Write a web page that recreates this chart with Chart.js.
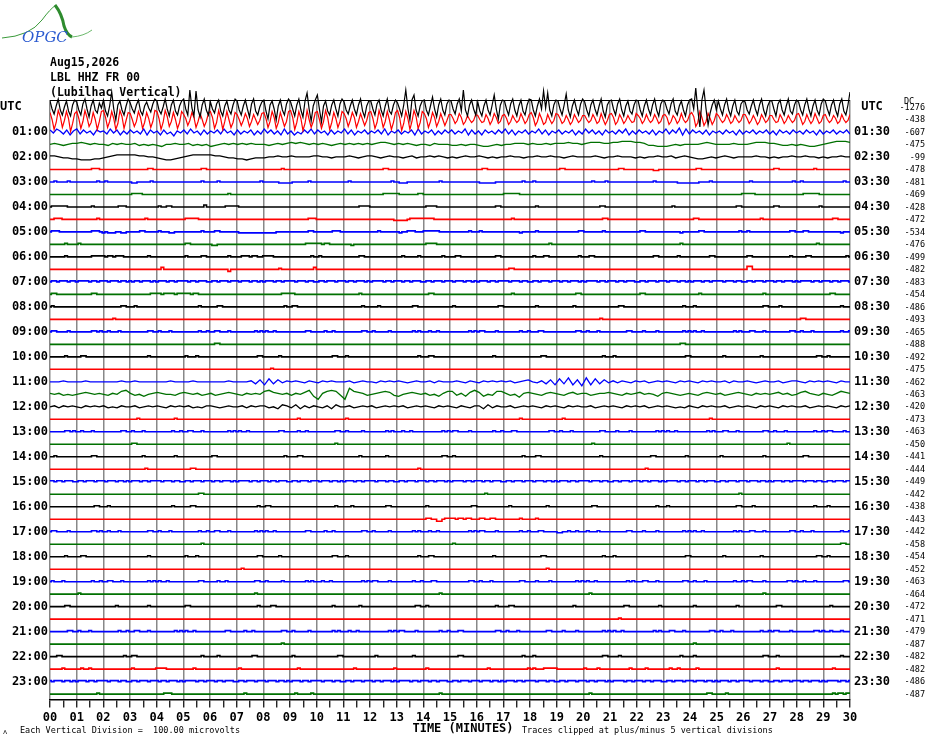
<!DOCTYPE html>
<html>
<head>
<meta charset="utf-8">
<script src="https://cdn.jsdelivr.net/npm/chart.js@4.4.1/dist/chart.umd.min.js"></script>
<style>
  html, body { margin: 0; padding: 0; background: #fff; }
  #wrap { width: 930px; height: 744px; position: relative; }
</style>
</head>
<body>
<div id="wrap"><canvas id="heli"></canvas></div>
<script>
// Header lines
const headerLines = ['Aug15,2026', 'LBL HHZ FR 00', '(Lubilhac Vertical)'];

// Minute ticks on the time axis (labels every minute, marks every half minute)
const minuteLabels = ['00','01','02','03','04','05','06','07','08','09','10','11','12','13','14','15',
                      '16','17','18','19','20','21','22','23','24','25','26','27','28','29','30'];

// Row labels (one trace per half hour, 48 rows); label every second row
const leftLabels = ['UTC','01:00','02:00','03:00','04:00','05:00','06:00','07:00','08:00','09:00','10:00','11:00',
                    '12:00','13:00','14:00','15:00','16:00','17:00','18:00','19:00','20:00','21:00','22:00','23:00'];
const rightLabels = ['UTC','01:30','02:30','03:30','04:30','05:30','06:30','07:30','08:30','09:30','10:30','11:30',
                     '12:30','13:30','14:30','15:30','16:30','17:30','18:30','19:30','20:30','21:30','22:30','23:30'];

// DC offset of every row
const dcOffsets = [-1276, -438, -607, -475, -99, -478, -481, -469, -428, -472, -534, -476,
                   -499, -482, -483, -454, -486, -493, -465, -488, -492, -475, -462, -463,
                   -420, -473, -463, -450, -441, -444, -449, -442, -438, -443, -442, -458,
                   -454, -452, -463, -464, -472, -471, -479, -487, -482, -482, -486, -487];

// Rows with real signal (drawn as plain lines); the others are quiet rows
const activeRows = [0, 1, 2, 3, 4, 22, 23, 24];

// Samples per row, evenly spread over the 30 minutes.
// 0-9 = +0..+9, A-Z = +10..+35, a-z = -1..-26 (units of SAMPLE_UV microvolts)
// '.' stands for five zero samples (quiet rows: 10 samples per minute)
const SAMPLE_UV = 8;
const DIV_UV = 100;
const traceRows = [
  // 00:00
  '6bg18ch06di27 5ch38bj17cf4a 7di1Fbm26ch18 4bf27dh15ae38 6cg08bi27dh16 8bhHaiGcj28ch 5bf37di16cg28 6ch17bj38dh05 7dl26bm17ch38 5bi28cj6Ebn17 Cbo16dh27bi38 5cg17bh28dj16 6bh37ci18dg27 4bi2Ham7Cci16 7ch1Abj28ch37 6bg38dHci27bh 5di17ch2Cbl27 6bh38ci17dh28 7ci18bGaEci27 6bh2Dcj17bh38 5ci27bh18dj26 7bh38ci16dg27 6ci17bh28ci37 5bg38dh16ci27 8bJct7Hbrf27c 6bh28ci17dh36 5cg17bh28ci16 6bi37ch18dg27 5ch28bi17ch38 6bh27ci38dh2F',
  // 00:30
  '70jc93ha81ld6 81ib92gc70jb8 92hb81jd93ia7 60gb82ic71hb9 81jc93gb70ic8 51fa72hb60gb6 82ic91jb80hc7 50fa61gb50ea6 71hb82ic70gb8 92jc81kd90hb7 80ib92jc71hb8 61ga72hb60fa7 81ic92hb80jc7 92kd81jb93ic8 61hb72gb60fa5 51da62eb40ca5 40cb51ea62db4 51eb40ca61da5 72fb61ec50da6 51db40eb51ca4 40ca51db60ea5 62eb51da40cb6 41da50ca51db4 52eb41da60ca5 73gc82fb61ea6 40ca51db40ca5 51da40eb51ca4 40cb51da40ca5 61eb50da61db4 50ca41db50ca5',
  // 01:00
  '2a31b2c1 3b2a1c20 1b3a2c1b 2a1b3c2a 1c2b0d1a 2b3a1c2b 1a2b3a1c 2b1a2c1b 3a2b1c3b 1c0b2a3b 2a1c2b1a 3b2c1a2b 1a2b3c1a 2b1a2c3b 1a2c1b2a 2b1a3c2b 1c2a1b2a 3b2c1a2b 1a3b2c1a 2b1a2c1b 3a2b1c2a 1b2a3c1b 2a1b2c1a 3b2a4c3b 2a1b2c1a 1b2a1c2b 1a2b1a2b 1c2a1b2a 1b2a1c2b 1a2b1a2b',
  // 01:30
  '010a01 121010 0a1010 01a0a0 ab0010 01a0a0 ba0101 010100 0a0101 212101 010a01 010101 012210 1010a0 0a1000 aa0a00 abba0a 001110 100101 112110 122211 223332 21aabb ba0a00 001210 000100 012221 10aa0a 0abba0 123332',
  // 02:00
  '110aab bcccbb a01222 221100 abccba 012222 2110aa bbcbaa a00100 100001 100a00 010a01 10a010 0a01a0 01010a 0a0100 10a0a0 0100a0 010010 0a0100 0010a0 01000a 0a0010 01a010 abba0a 010a00 00100a 0a0010 0100a0 a00100',
  // 02:30
  '.. .01110 .. .00110 .. 0000000110 .. .. .00100 .. .. .. 0000011000 .. .. .. 0011000000 .. .. 0110000000 .. 0001100000 .0aa00 .. 0011000000 .. .. 0110000000 .01000 ..',
  // 03:00
  '0010000100 .00010 0100000000 0aa0000010 .. .00100 0001000000 .00001 .0aaaa a000000100 .. 0010000000 .00010 0aaa000000 .01000 .. 0aaaaaa000 .00100 0100000000 .. 0001000010 .. .01000 .aaaaa aaa0000100 .. 0010000000 .00010 0100000000 .00100',
  // 03:30
  '.. .. .. 0111100000 .. .. .00100 .. .. .. .. .. .11111 1000000011 .. .. .. 1111110000 .. .. .. .. .. .. .. .00001 1111000000 .. 0011111100 ..',
  // 04:00
  '0111111000 .01000 .01110 .. 0100110000 .00020 .01111 1000000000 .. .. .. .01111 .. .. 0111100000 .. .00110 .. 0010000000 .. .01100 .. .. 0001000000 .. .00110 .. 0110000000 .00010 ..',
  // 04:30
  '0011100000 .00010 .. .01000 .. 0111110000 .. .. .. .00111 .. .. .0000a aaaa011111 1111000000 .. .. 0001000000 .. .. .00110 .. .. .. 0110000000 .. .01000 .. .. 0001100000',
  // 05:00
  '0111000000 .01110 a0aaa00aa0 0000110000 01000aa000 .00100 0011000000 0aaaaaaaaa aaaaa00000 .00110 0000001110 .. 0001000000 0a00111000 1111110000 .00100 0100000000 .0a000 0010000000 .00011 0000000100 .. 0110000000 .0a000 0001100000 .00010 0100000000 .00110 0011000000 .0a000',
  // 05:30
  '.01000 0100000000 .. .. .. 0110000000 0aa0000000 .. .. .01111 1101100000 000a000000 .. .. 0111100000 .. .. .. .00100 .. .. .. .. .01000 .. .. .. .. .00100 ..',
  // 06:00
  '.01000 .01111 1011011100 .00100 .. 0100000110 .00100 0011101100 1111000000 .00010 0100000000 .01100 .. 0010000010 .00100 0011000000 .00110 .. 0100011000 .00010 0011000000 .. .01100 0000010000 .00110 .. 0110000000 .00100 0001100000 .00010',
  // 06:30
  '.. .. .. .. 0020000000 .. .00b00 .. .01000 .00002 .. .. .. .. .. .. .. 0011000000 .. .. .. .. .. .. .. .. 0330000000 .. .. ..',
  // 07:00
  '0110111011 0111101101 1101110110 1011011101 0111011011 1101101110 0110111011 1011101101 0111011011 1101110110 0110111011 1011011101 0111101101 1101101110 0110111011 1011101101 0111011011 1101110110 0110111011 1011011101 0111101101 1101101110 0110111011 1011101101 0111011011 1101110110 0110111011 1011011101 0111101101 1101101110',
  // 07:30
  '0110000000 .01100 .. .00011 1101111011 1110110000 .. .. .00111 1100000000 .. .01000 .. .. 0011000000 .. .. 0001000000 .. .00110 .. .. 0110000000 .. 0001000000 .. .00100 .. .. 0011000000',
  // 08:00
  '0100000000 .. .00110 0010000000 .. .01000 0001100000 .. .00010 0110000000 .. .00100 0001000000 .01100 .. 0100000000 .00011 .. 0010000000 .01000 .. 0001100000 .. .00100 0100000000 .. .00110 0001000000 .. .01000',
  // 08:30
  '.. .. 0000100000 .. .. .. .. .. .. .. .. .. .. .. .. .. .. .. .. .. .01000 .. .. .. .. .. .. .. 0110000000 ..',
  // 09:00
  '0110000100 .01101 0010001000 .00110 0100010000 .01001 0011000100 .00101 0100100000 .01100 0001001000 .00110 0100000100 .01010 0010010000 .00101 0110000100 .01001 0001100000 .00110 0100010000 .01100 0010000100 .00101 0100100000 .01010 0011000100 .00110 0100010000 .01001',
  // 09:30
  '.. .. .. .. .. .. 0011000000 .. .. .. .. .. .. .. .. .. .. .. .. .. .. .. .. .01100 .. .. .. .. .. ..',
  // 10:00
  '.01000 0011000000 .. .00100 .. 0100010000 .. .00011 0000001000 .. .01100 0100000000 .. .00010 0011000000 .. .01000 .. 0000110000 .. .00100 0100000000 .. .00011 .. 0010000000 .01000 .. .00110 0100000000',
  // 10:30
  '.. .. .. .. .. .. .. .. 0001000000 .. .. .. .. .. .. .. .. .. .. .. .. .. .. .. .. .. .. .. .. ..',
  // 11:00
  '000100 001000 000010 010000 000100 001000 000010 0001b2 c3b2a1 010a10 a10100 01a010 0a1010 10a010 01a100 010a10 a10101 01a012 0a1b2c 3b4c2d 4c3b2a 1a10a1 01a010 10a101 0a1010 01a100 10a010 01a011 0a1010 10a100',
  // 11:30
  '101a0a 012101 0a1034 1a0b01 2100a1 2101a0 1a0121 0a1010 342101 a1024b e1343a e6321a 01232a b01210 1a0b13 3a1b24 2b0a33 1a0c12 10a121 0a1201 1a0112 10a101 2010b1 210a01 0a1210 1a0121 0a1010 1201a0 2310a1 0a1321',
  // 12:00
  '01a101 0a1010 1a0a10 01a010 10a101 01a0a1 10a010 01a101 1a0b21 a2b1a1 0a1b20 01a010 1a0101 01a010 10a101 0a10a1 1b2a10 01a010 10a101 0a1010 01a010 10a101 01a010 10a0a1 0a1010 01a010 10a101 0a1010 01a010 10a101',
  // 12:30
  '.. .. .. 0001000000 0000000100 .. .. .. .. 0001000000 .. 0100000000 .. .. .. .. .. .01000 .. 0010000000 .. .. .. .. .00100 .. .. .. .. ..',
  // 13:00
  '.01101 0010001000 .00110 0100010000 .01001 0011000100 .00101 0100100000 .01100 0001001000 .00110 0100000100 .01010 0010010000 .00101 0110000100 .01001 0001100000 .00110 0100010000 .01100 0010000100 .00101 0100100000 .01010 0011000100 .00110 0100010000 .01001 0110000100',
  // 13:30
  '.. .. .. 0110000000 .. .. .. .. .. .. .00100 .. .. .. .. .. .. .. .. .. 0001000000 .. .. .. .. .. .. .01000 .. ..',
  // 14:00
  '0010000000 .01100 .. 0000010000 .00100 .. 0110000000 .. .00010 0001100000 .. .01000 0000001000 .. .00110 0100000000 .. .00100 0011000000 .. .01000 .. 0000011000 .00010 .. 0100000000 .00100 .. 0011000000 ..',
  // 14:30
  '.. .. .. .01000 .. 0001100000 .. .. .. .. .. .. .. .00010 .. .. .. .. .. .. .. .. 0001000000 .. .. .. .. .. .. ..',
  // 15:00
  '1101101110 0110111011 1011101101 0111011011 1101110110 0110111011 1011011101 0111101101 1101101110 0110111011 1011101101 0111011011 1101110110 0110111011 1011011101 0111101101 1101101110 0110111011 1011101101 0111011011 1101110110 0110111011 1011011101 0111101101 1101101110 0110111011 1011101101 0111011011 1101110110 0110111011',
  // 15:30
  '.. .. .. .. .. .01100 .. .. .. .. .. .. .. .. .. .. 0001000000 .. .. .. .. .. .. .. .. .00010 .. .. .. ..',
  // 16:00
  '.. .00110 0010000000 .. .01000 0001100000 .. .00010 0110000000 .. .00100 0001000000 .01100 .. 0100000000 .00011 .. 0010000000 .01000 .. 0001100000 .. .00100 0100000000 .. .00110 0001000000 .. .01000 0100000000',
  // 16:30
  '.. .. .. .. .. .. .. .. .. .. .. .. .. .. 01100bb011 1101101100 0110011000 .01000 0010000000 .. .. .. .. .. .. .. .. .. .. ..',
  // 17:00
  '0110000100 .01101 0010001000 .00110 0100010000 .01001 0011000100 .00101 0100100000 .01100 0001001000 .00110 0100000100 .01010 0010010000 .00101 0110000100 .01001 0001100000 aa00100100 0100010000 .01100 0010000100 .00101 0100100000 .01010 0011000100 .00110 0100010000 .01001',
  // 17:30
  '.. .. .. .. .. .00100 .. .. .. .. .. .. .. .. .. 0100000000 .. .. .. .. .. .. .. .. .. .. .. .. .. 0000001100',
  // 18:00
  '.01000 0011000000 .. .00100 .. 0100010000 .. .00011 0000001000 .. .01100 0100000000 .. .00010 0011000000 .. .01000 .. 0000110000 .. .00100 0100000000 .. .00011 .. 0010000000 .01000 .. .00110 0100000000',
  // 18:30
  '.. .. .. .. .. .. .. 0010000000 .. .. .. .. .. .. .. .. .. .. .01000 .. .. .. .. .. .. .. .. .. .. ..',
  // 19:00
  '0100010000 .01001 0011000100 .00101 0100100000 .01100 0001001000 .00110 0100000100 .01010 0010010000 .00101 0110000100 .01001 0001100000 .00110 0100010000 .01100 0010000100 .00101 0100100000 .01010 0011000100 .00110 0100010000 .01001 0110000100 .01101 0010001000 .00110',
  // 19:30
  '.. 0100000000 .. .. .. .. .. .00100 .. .. .. .. .. .. .01000 .. .. .. .. .. 0010000000 .. .. .. .. .. .00100 .. .. ..',
  // 20:00
  '.01100 .. 0000010000 .00100 .. 0110000000 .. .00010 0001100000 .. .01000 0000001000 .. .00110 0100000000 .. .00100 0011000000 .. .01000 .. 0000011000 .00010 .. 0100000000 .00100 .. 0011000000 .. 0010000000',
  // 20:30
  '.. .. .. .. .. .. .. .. .. .. .. .. .. .. .. .. .. .. .. .. .. 0001000000 .. .. .. .. .. .. .. ..',
  // 21:00
  '.00110 0100010000 .01001 0011000100 .00101 0100100000 .01100 0001001000 .00110 0100000100 .01010 0010010000 .00101 0110000100 .01001 0001100000 .00110 0100010000 .01100 0010000100 .00101 0100100000 .01010 0011000100 .00110 0100010000 .01001 0110000100 .01101 0010001000',
  // 21:30
  '.. .. .. .. .. .. .. .. .00100 .. .. .. .. .. .. .. .. .. .. .. .. .. .. .. 0100000000 .. .. .. .. ..',
  // 22:00
  '0001100000 .. .00010 0110000000 .. .00100 0001000000 .01100 .. 0100000000 .00011 .. 0010000000 .01000 .. 0001100000 .. .00100 0100000000 .. .00110 0001000000 .. .01000 0100000000 .. .00110 0010000000 .. .01000',
  // 22:30
  '.10000 0010010000 .. 0100000000 1111000000 0000100000 .. 0100000000 .. 0001000000 .. 0000100000 0000000001 .. 0100000000 .. 0000100000 0000000001 0100011111 .. 1000010000 0000000100 0001000000 0010010000 0010000000 .. .. 0010000000 .. 0001000000',
  // 23:00
  '1011101101 0111011011 1101110110 0110111011 1011011101 0111101101 1101101110 0110111011 1011101101 0111011011 1101110110 0110111011 1011011101 0111101101 1101101110 0110111011 1011101101 0111011011 1101110110 0110111011 1011011101 0111101101 1101101110 0110111011 1011101101 0111011011 1101110110 0110111011 1011011101 0111101101',
  // 23:30
  '.. 0000000010 .. .. 0001110000 .. .. 0001000000 .. 0010000010 .. .. .. .. .01000 .. .. .. .. .. 0010000000 .. .. .. .01100 0001000000 .. .. .. 0001011011'
];

const traceColors = ['#000000', '#ff0000', '#0000ff', '#007000'];
const MONO = '"DejaVu Sans Mono", monospace';

function decodeSamples(str) {
    const flat = str.replace(/\s+/g, '').replace(/\./g, '00000');
    return [...flat].map(c => {
        if (c >= '0' && c <= '9') return c.charCodeAt(0) - 48;
        if (c >= 'A' && c <= 'Z') return c.charCodeAt(0) - 55;
        return -(c.charCodeAt(0) - 96);
    });
}

function buildDatasets() {
    return traceRows.map((row, i) => {
        const samples = decodeSamples(row);
        const n = samples.length;
        const active = activeRows.includes(i);
        const data = samples.map((v, k) => {
            let div = v * SAMPLE_UV / DIV_UV;
            div = Math.max(-5, Math.min(5, div));
            return { x: k * 30 / (n - 1), y: i - div };
        });
        return {
            data: data,
            borderColor: traceColors[i % 4],
            borderWidth: i < 2 ? 1.2 : (active ? 1.3 : 1.6),
            stepped: active ? false : 'middle',
            pointRadius: 0,
            tension: 0,
            clip: i === 0 ? { left: 0, right: 0, top: 20, bottom: 0 } : 0
        };
    });
}

// Texts round the plot
const decorPlugin = {
    id: 'decor',
    afterDraw(chart) {
        const { ctx, chartArea } = chart;
        const yScale = chart.scales.y;
        ctx.save();

        // top border
        ctx.strokeStyle = '#000';
        ctx.lineWidth = 1.2;
        ctx.beginPath();
        ctx.moveTo(chartArea.left, chartArea.top + 0.5);
        ctx.lineTo(chartArea.right, chartArea.top + 0.5);
        ctx.stroke();

        // logo
        ctx.strokeStyle = '#3a9a3a';
        ctx.lineWidth = 1;
        ctx.beginPath();
        ctx.moveTo(2, 38);
        ctx.quadraticCurveTo(30, 36, 42, 20);
        ctx.quadraticCurveTo(50, 9, 56, 5);
        ctx.stroke();
        ctx.lineWidth = 3;
        ctx.strokeStyle = '#2e8b2e';
        ctx.beginPath();
        ctx.moveTo(55, 5);
        ctx.quadraticCurveTo(62, 14, 64, 26);
        ctx.quadraticCurveTo(67, 35, 72, 37);
        ctx.stroke();
        ctx.lineWidth = 1;
        ctx.strokeStyle = '#6bb86b';
        ctx.beginPath();
        ctx.moveTo(72, 37);
        ctx.quadraticCurveTo(84, 36, 92, 30);
        ctx.stroke();
        ctx.font = 'italic 15px "DejaVu Serif", serif';
        ctx.fillStyle = '#2a5ad0';
        ctx.textAlign = 'left';
        ctx.textBaseline = 'alphabetic';
        ctx.fillText('OPGC', 22, 42);

        // header
        ctx.fillStyle = '#000';
        ctx.font = 'bold 11.5px ' + MONO;
        headerLines.forEach((t, i) => ctx.fillText(t, 50, 66 + i * 15));

        // row labels
        ctx.font = 'bold 12px ' + MONO;
        ctx.textBaseline = 'middle';
        leftLabels.forEach((t, k) => {
            const yy = yScale.getPixelForValue(k * 2);
            if (k === 0) {
                ctx.textAlign = 'left';
                ctx.fillText(t, 0, yy);
            } else {
                ctx.textAlign = 'right';
                ctx.fillText(t, 48, yy);
            }
        });
        ctx.textAlign = 'center';
        rightLabels.forEach((t, k) => {
            ctx.fillText(t, 872, yScale.getPixelForValue(k * 2));
        });

        // DC offsets
        ctx.font = '8.5px ' + MONO;
        ctx.textAlign = 'right';
        dcOffsets.forEach((v, i) => {
            ctx.fillText(String(v), 925, yScale.getPixelForValue(i) + 0.5);
        });
        ctx.textAlign = 'center';
        ctx.fillText('DC', 909, 102);

        // bottom notes
        ctx.font = 'bold 12px ' + MONO;
        ctx.fillText('TIME (MINUTES)', 463, 729);
        ctx.font = '8.5px ' + MONO;
        ctx.textAlign = 'left';
        ctx.fillText('Each Vertical Division =  100.00 microvolts', 20, 731);
        ctx.fillText('Traces clipped at plus/minus 5 vertical divisions', 522, 731);
        ctx.font = '7px ' + MONO;
        ctx.fillText('\u028C', 3, 732);

        ctx.restore();
    }
};

document.addEventListener('DOMContentLoaded', function() {
    const ctx = document.getElementById('heli').getContext('2d');
    new Chart(ctx, {
        type: 'line',
        data: { datasets: buildDatasets() },
        options: {
            responsive: true,
            maintainAspectRatio: false,
            animation: false,
            events: [],
            layout: { padding: { left: 50, right: 80, top: 100, bottom: 16 } },
            plugins: { legend: { display: false }, tooltip: { enabled: false } },
            scales: {
                x: {
                    type: 'linear',
                    min: 0,
                    max: 30,
                    z: 1,
                    border: { display: true, color: '#000', width: 1.5 },
                    grid: {
                        color: c => (c.tick && Number.isInteger(c.tick.value)) ? '#888888' : 'rgba(0,0,0,0)',
                        lineWidth: 1.5,
                        tickColor: '#000',
                        tickWidth: 1.2,
                        tickLength: 8,
                        drawTicks: true
                    },
                    ticks: {
                        stepSize: 0.5,
                        autoSkip: false,
                        maxRotation: 0,
                        padding: 3,
                        color: '#000',
                        font: { family: MONO, size: 12, weight: 'bold' },
                        callback: v => Number.isInteger(v) ? minuteLabels[v] : ''
                    }
                },
                y: {
                    type: 'linear',
                    display: false,
                    reverse: true,
                    min: -0.56,
                    max: 47.44
                }
            }
        },
        plugins: [decorPlugin]
    });
});
</script>
</body>
</html>
